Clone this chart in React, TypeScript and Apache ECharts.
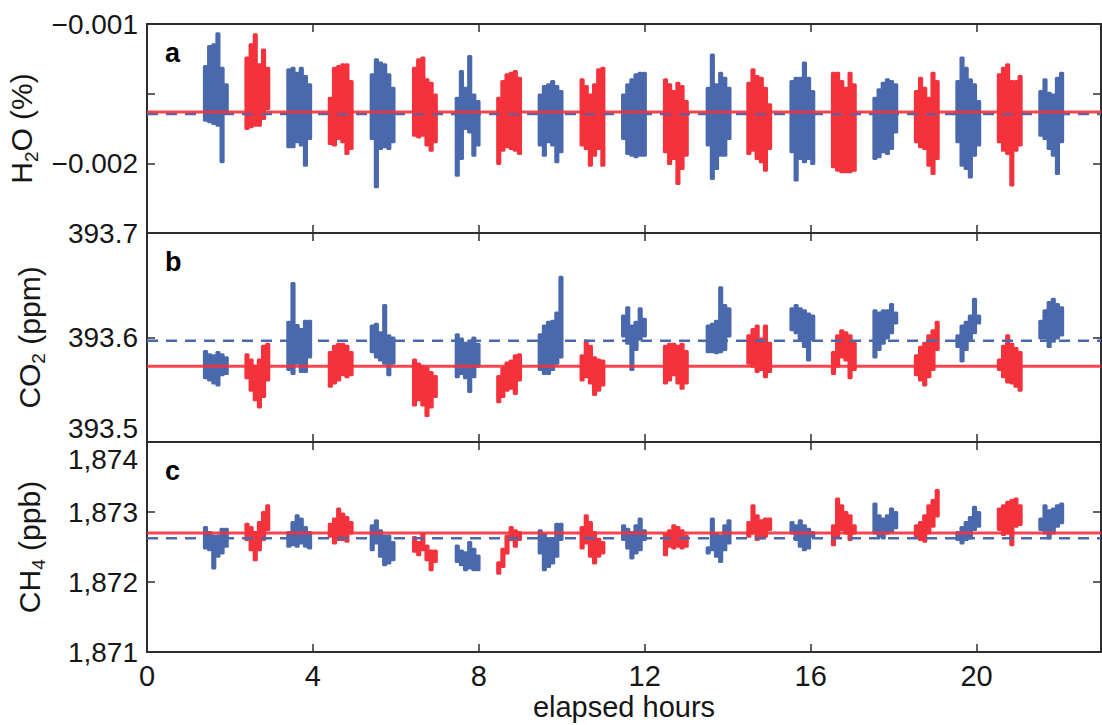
import React, { useEffect, useRef } from "react";
import * as echarts from "echarts";

// ---------------- data ----------------
const X_MAX = 23;
const X_TICK_STEP = 4;
const COL_STEP = 0.1; // hours covered by one column of a measurement block

// start time (elapsed hours) of each measurement block
const blueStarts = [1.36, 3.37, 5.38, 7.43, 9.43, 11.44, 13.48, 15.5, 17.5, 19.5, 21.5];
const redStarts = [2.36, 4.37, 6.4, 8.43, 10.44, 12.45, 14.46, 16.5, 18.5, 20.5];

// each block: list of [top, bottom] of the point cloud, column by column
const h2oBlue: number[][][] = [
  [[-1.294e-3, -1.701e-3], [-1.151e-3, -1.713e-3], [-1.139e-3, -1.725e-3], [-1.06e-3, -1.737e-3], [-1.306e-3, -2.0e-3], [-1.426e-3, -1.641e-3]],
  [[-1.318e-3, -1.892e-3], [-1.306e-3, -1.892e-3], [-1.342e-3, -1.856e-3], [-1.306e-3, -1.88e-3], [-1.366e-3, -2.024e-3], [-1.426e-3, -1.833e-3]],
  [[-1.354e-3, -1.833e-3], [-1.246e-3, -2.179e-3], [-1.27e-3, -1.904e-3], [-1.282e-3, -1.892e-3], [-1.354e-3, -1.904e-3], [-1.45e-3, -1.856e-3]],
  [[-1.522e-3, -2.096e-3], [-1.33e-3, -1.976e-3], [-1.45e-3, -1.761e-3], [-1.222e-3, -1.785e-3], [-1.498e-3, -1.952e-3], [-1.545e-3, -1.88e-3]],
  [[-1.498e-3, -1.88e-3], [-1.438e-3, -1.952e-3], [-1.426e-3, -1.856e-3], [-1.402e-3, -1.88e-3], [-1.438e-3, -2.0e-3], [-1.474e-3, -1.928e-3]],
  [[-1.498e-3, -1.833e-3], [-1.426e-3, -1.94e-3], [-1.39e-3, -1.952e-3], [-1.354e-3, -1.964e-3], [-1.342e-3, -1.952e-3], [-1.342e-3, -1.952e-3]],
  [[-1.45e-3, -1.88e-3], [-1.211e-3, -2.12e-3], [-1.426e-3, -2.048e-3], [-1.342e-3, -1.952e-3], [-1.378e-3, -1.952e-3], [-1.45e-3, -1.833e-3]],
  [[-1.402e-3, -1.928e-3], [-1.378e-3, -2.131e-3], [-1.378e-3, -1.976e-3], [-1.27e-3, -2.0e-3], [-1.378e-3, -1.976e-3], [-1.474e-3, -2.012e-3]],
  [[-1.522e-3, -1.976e-3], [-1.462e-3, -1.964e-3], [-1.414e-3, -1.928e-3], [-1.39e-3, -1.94e-3], [-1.402e-3, -1.904e-3], [-1.426e-3, -1.785e-3]],
  [[-1.402e-3, -1.856e-3], [-1.234e-3, -2.024e-3], [-1.306e-3, -2.048e-3], [-1.39e-3, -2.108e-3], [-1.426e-3, -1.952e-3], [-1.545e-3, -1.88e-3]],
  [[-1.474e-3, -1.809e-3], [-1.39e-3, -1.833e-3], [-1.486e-3, -1.904e-3], [-1.498e-3, -1.952e-3], [-1.378e-3, -2.084e-3], [-1.342e-3, -1.856e-3]],
];
const h2oRed: number[][][] = [
  [[-1.234e-3, -1.761e-3], [-1.139e-3, -1.749e-3], [-1.067e-3, -1.737e-3], [-1.282e-3, -1.737e-3], [-1.175e-3, -1.689e-3], [-1.306e-3, -1.617e-3]],
  [[-1.522e-3, -1.868e-3], [-1.306e-3, -1.88e-3], [-1.294e-3, -1.833e-3], [-1.282e-3, -1.856e-3], [-1.282e-3, -1.94e-3], [-1.402e-3, -1.904e-3]],
  [[-1.306e-3, -1.809e-3], [-1.246e-3, -1.821e-3], [-1.234e-3, -1.809e-3], [-1.39e-3, -1.88e-3], [-1.414e-3, -1.916e-3], [-1.498e-3, -1.856e-3]],
  [[-1.522e-3, -2.012e-3], [-1.402e-3, -1.916e-3], [-1.354e-3, -1.892e-3], [-1.342e-3, -1.904e-3], [-1.33e-3, -1.916e-3], [-1.378e-3, -1.94e-3]],
  [[-1.39e-3, -1.88e-3], [-1.438e-3, -1.904e-3], [-1.498e-3, -2.024e-3], [-1.426e-3, -1.952e-3], [-1.318e-3, -1.904e-3], [-1.306e-3, -2.024e-3]],
  [[-1.39e-3, -1.928e-3], [-1.426e-3, -2.012e-3], [-1.474e-3, -1.976e-3], [-1.414e-3, -2.156e-3], [-1.438e-3, -2.048e-3], [-1.545e-3, -1.952e-3]],
  [[-1.414e-3, -1.94e-3], [-1.318e-3, -1.916e-3], [-1.366e-3, -1.976e-3], [-1.378e-3, -2.0e-3], [-1.45e-3, -2.06e-3], [-1.569e-3, -1.904e-3]],
  [[-1.342e-3, -2.036e-3], [-1.342e-3, -2.06e-3], [-1.402e-3, -2.072e-3], [-1.45e-3, -2.072e-3], [-1.342e-3, -2.072e-3], [-1.426e-3, -2.06e-3]],
  [[-1.474e-3, -1.856e-3], [-1.378e-3, -1.892e-3], [-1.45e-3, -1.904e-3], [-1.522e-3, -2.024e-3], [-1.342e-3, -2.084e-3], [-1.402e-3, -1.976e-3]],
  [[-1.354e-3, -1.856e-3], [-1.306e-3, -1.916e-3], [-1.282e-3, -1.94e-3], [-1.402e-3, -2.167e-3], [-1.402e-3, -1.916e-3], [-1.366e-3, -1.88e-3]],
];

const co2Blue: number[][][] = [
  [[393.588, 393.56], [393.585, 393.558], [393.584, 393.555], [393.587, 393.553], [393.585, 393.563], [393.582, 393.564]],
  [[393.616, 393.568], [393.653, 393.564], [393.613, 393.574], [393.609, 393.566], [393.617, 393.566], [393.617, 393.58]],
  [[393.6125, 393.585], [393.614, 393.58], [393.606, 393.577], [393.632, 393.574], [393.603, 393.563], [393.601, 393.574]],
  [[393.604, 393.561], [393.6, 393.564], [393.596, 393.56], [393.598, 393.547], [393.601, 393.561], [393.595, 393.571]],
  [[393.604, 393.568], [393.6125, 393.564], [393.616, 393.564], [393.617, 393.568], [393.625, 393.574], [393.659, 393.58]],
  [[393.622, 393.6], [393.63, 393.593], [393.6125, 393.568], [393.616, 393.587], [393.629, 393.597], [393.619, 393.6]],
  [[393.6125, 393.585], [393.614, 393.585], [393.617, 393.584], [393.649, 393.585], [393.632, 393.587], [393.629, 393.6]],
  [[393.629, 393.606], [393.632, 393.603], [393.629, 393.597], [393.627, 393.59], [393.624, 393.577], [393.622, 393.597]],
  [[393.627, 393.58], [393.625, 393.587], [393.627, 393.593], [393.627, 393.598], [393.633, 393.603], [393.625, 393.6125]],
  [[393.603, 393.59], [393.6125, 393.576], [393.616, 393.587], [393.622, 393.597], [393.638, 393.603], [393.622, 393.6125]],
  [[393.617, 393.598], [393.627, 393.598], [393.635, 393.59], [393.638, 393.595], [393.633, 393.598], [393.63, 393.601]],
];
const co2Red: number[][][] = [
  [[393.585, 393.56], [393.58, 393.548], [393.574, 393.539], [393.58, 393.532], [393.593, 393.542], [393.595, 393.558]],
  [[393.587, 393.552], [393.593, 393.555], [393.595, 393.558], [393.595, 393.563], [393.593, 393.561], [393.587, 393.563]],
  [[393.58, 393.534], [393.576, 393.539], [393.574, 393.534], [393.572, 393.524], [393.568, 393.532], [393.564, 393.542]],
  [[393.564, 393.537], [393.572, 393.542], [393.577, 393.548], [393.579, 393.55], [393.584, 393.545], [393.585, 393.558]],
  [[393.584, 393.558], [393.598, 393.561], [393.593, 393.555], [393.582, 393.544], [393.58, 393.548], [393.579, 393.553]],
  [[393.593, 393.555], [393.595, 393.558], [393.595, 393.563], [393.593, 393.555], [393.595, 393.55], [393.588, 393.555]],
  [[393.603, 393.574], [393.609, 393.571], [393.6125, 393.566], [393.6, 393.568], [393.6125, 393.561], [393.596, 393.566]],
  [[393.587, 393.564], [393.603, 393.571], [393.608, 393.58], [393.606, 393.577], [393.603, 393.56], [393.596, 393.568]],
  [[393.584, 393.563], [393.592, 393.558], [393.596, 393.553], [393.603, 393.561], [393.608, 393.568], [393.616, 393.587]],
  [[393.58, 393.568], [393.593, 393.561], [393.603, 393.556], [393.595, 393.555], [393.591, 393.552], [393.587, 393.548]],
];

const ch4Blue: number[][][] = [
  [[1872.8, 1872.464], [1872.728, 1872.44], [1872.68, 1872.177], [1872.68, 1872.345], [1872.776, 1872.393], [1872.776, 1872.488]],
  [[1872.728, 1872.488], [1872.872, 1872.512], [1872.968, 1872.488], [1872.92, 1872.536], [1872.8, 1872.488], [1872.728, 1872.464]],
  [[1872.824, 1872.44], [1872.896, 1872.536], [1872.752, 1872.345], [1872.68, 1872.225], [1872.68, 1872.249], [1872.584, 1872.297]],
  [[1872.536, 1872.273], [1872.464, 1872.225], [1872.44, 1872.153], [1872.584, 1872.177], [1872.488, 1872.153], [1872.393, 1872.153]],
  [[1872.752, 1872.393], [1872.704, 1872.153], [1872.632, 1872.2], [1872.632, 1872.249], [1872.848, 1872.345], [1872.848, 1872.584]],
  [[1872.824, 1872.584], [1872.776, 1872.464], [1872.728, 1872.321], [1872.824, 1872.393], [1872.92, 1872.44], [1872.752, 1872.584]],
  [[1872.512, 1872.393], [1872.92, 1872.44], [1872.704, 1872.345], [1872.68, 1872.273], [1872.824, 1872.44], [1872.896, 1872.536]],
  [[1872.872, 1872.68], [1872.824, 1872.584], [1872.896, 1872.488], [1872.824, 1872.44], [1872.776, 1872.464], [1872.728, 1872.632]],
  [[1873.136, 1872.68], [1872.968, 1872.632], [1872.92, 1872.608], [1872.968, 1872.68], [1873.064, 1872.704], [1873.016, 1872.752]],
  [[1872.728, 1872.584], [1872.8, 1872.536], [1872.872, 1872.584], [1872.944, 1872.608], [1873.088, 1872.728], [1873.016, 1872.776]],
  [[1872.92, 1872.728], [1873.112, 1872.68], [1873.04, 1872.608], [1873.064, 1872.68], [1873.112, 1872.776], [1873.136, 1872.824]],
];
const ch4Red: number[][][] = [
  [[1872.848, 1872.584], [1872.8, 1872.44], [1872.728, 1872.297], [1872.872, 1872.44], [1873.016, 1872.584], [1873.112, 1872.728]],
  [[1872.848, 1872.632], [1872.92, 1872.536], [1873.064, 1872.584], [1872.992, 1872.584], [1872.944, 1872.56], [1872.872, 1872.68]],
  [[1872.656, 1872.417], [1872.584, 1872.369], [1872.704, 1872.44], [1872.536, 1872.297], [1872.464, 1872.153], [1872.464, 1872.273]],
  [[1872.297, 1872.105], [1872.488, 1872.2], [1872.68, 1872.393], [1872.8, 1872.584], [1872.752, 1872.488], [1872.728, 1872.584]],
  [[1872.8, 1872.464], [1872.968, 1872.536], [1872.872, 1872.345], [1872.728, 1872.249], [1872.632, 1872.345], [1872.584, 1872.393]],
  [[1872.704, 1872.369], [1872.752, 1872.488], [1872.824, 1872.464], [1872.8, 1872.488], [1872.752, 1872.464], [1872.68, 1872.488]],
  [[1872.872, 1872.632], [1873.112, 1872.68], [1872.968, 1872.584], [1872.896, 1872.608], [1872.92, 1872.632], [1872.92, 1872.728]],
  [[1872.824, 1872.512], [1873.208, 1872.632], [1873.112, 1872.728], [1873.016, 1872.68], [1872.968, 1872.584], [1872.824, 1872.68]],
  [[1872.824, 1872.632], [1872.872, 1872.584], [1872.968, 1872.56], [1873.112, 1872.68], [1873.184, 1872.776], [1873.328, 1872.92]],
  [[1873.064, 1872.728], [1873.112, 1872.656], [1873.16, 1872.68], [1873.184, 1872.512], [1873.208, 1872.776], [1873.112, 1872.8]],
];

// mean levels (red solid, blue dashed)
const h2oMeanRed = -1.632e-3;
const h2oMeanBlue = -1.646e-3;
const co2MeanRed = 393.5724;
const co2MeanBlue = 393.597;
const ch4MeanRed = 1872.7;
const ch4MeanBlue = 1872.626;

const panelLetters = ["a", "b", "c"];
const yNames = ["H{s|2}O (%)", "CO{s|2} (ppm)", "CH{s|4} (ppb)"];
const xName = "elapsed hours";

// ---------------- styling ----------------
const BLUE = "#4a69ad";
const RED = "#f4323c";
const AXIS = "#2e2e2e";
const TEXT = "#161616";
const FONT = "'Liberation Sans', Arial, Helvetica, sans-serif";
const HALF = 0.062;

const GRIDS = [
  { top: 24, height: 209 },
  { top: 233, height: 209 },
  { top: 442, height: 210 },
];

function buildBlocks(starts: number[], blocks: number[][][]) {
  const out: number[][] = [];
  blocks.forEach((cols, k) => {
    cols.forEach((c, i) => {
      out.push([starts[k] + (i + 0.5) * COL_STEP, c[1], c[0]]);
    });
  });
  return out;
}

function blockSeries(data: number[][], color: string, idx: number) {
  return {
    type: "custom",
    xAxisIndex: idx * 2,
    yAxisIndex: idx * 2,
    silent: true,
    z: 2,
    encode: { x: 0, y: [1, 2] },
    data,
    renderItem: (_p: any, api: any) => {
      const t = api.value(0);
      const lo = api.value(1);
      const hi = api.value(2);
      const a = api.coord([t - HALF, hi]);
      const b = api.coord([t + HALF, lo]);
      return {
        type: "rect",
        shape: { x: a[0], y: a[1], width: b[0] - a[0], height: Math.max(1.5, b[1] - a[1]), r: 1.5 },
        style: { fill: color },
      };
    },
  };
}

function meanSeries(v: number, color: string, dashed: boolean, idx: number) {
  return {
    type: "line",
    xAxisIndex: idx * 2,
    yAxisIndex: idx * 2,
    silent: true,
    symbol: "none",
    z: dashed ? 4 : 5,
    data: [
      [0, v],
      [X_MAX, v],
    ],
    lineStyle: dashed
      ? { color: BLUE, width: 2.5, type: [11, 8] }
      : { color: RED, width: 3, opacity: 0.9 },
  };
}

const near = (a: number, b: number) => Math.abs(a - b) < 1e-9;

export default function App() {
  const ref = useRef<HTMLDivElement>(null);

  useEffect(() => {
    if (!ref.current) return;
    const chart = echarts.init(ref.current, undefined, { renderer: "svg" });

    const tickStyle = { inside: true, length: 8, lineStyle: { color: AXIS, width: 1.5 } };
    const lineStyle = { show: true, onZero: false, lineStyle: { color: AXIS, width: 2 } };

    const xAxes: any[] = [];
    const yAxes: any[] = [];
    const yRanges = [
      { min: -2.5e-3, max: -1e-3, interval: 0.5e-3 },
      { min: 393.5, max: 393.7, interval: 0.1 },
      { min: 1871, max: 1874, interval: 1 },
    ];
    const yFormatters = [
      (v: number) => (near(v, -1e-3) ? "\u22120.001" : near(v, -2e-3) ? "\u22120.002" : ""),
      (v: number) => (near(v, 393.5) ? "{lo|393.5}" : v.toFixed(1)),
      (v: number) => {
        const s = Math.round(v).toLocaleString("en-US");
        return near(v, 1874) ? "{hi|" + s + "}" : s;
      },
    ];

    GRIDS.forEach((_g, i) => {
      xAxes.push({
        type: "value",
        gridIndex: i,
        position: "bottom",
        min: 0,
        max: X_MAX,
        interval: X_TICK_STEP,
        axisLine: lineStyle,
        axisTick: tickStyle,
        splitLine: { show: false },
        axisLabel: {
          show: i === 2,
          margin: 9,
          fontSize: 29,
          fontFamily: FONT,
          color: TEXT,
          formatter: (v: number) => (v % X_TICK_STEP === 0 ? String(v) : ""),
        },
        name: i === 2 ? xName : "",
        nameLocation: "middle",
        nameGap: 40,
        nameTextStyle: { fontSize: 29, fontFamily: FONT, color: TEXT },
      });
      xAxes.push({
        type: "value",
        gridIndex: i,
        position: "top",
        min: 0,
        max: X_MAX,
        interval: X_TICK_STEP,
        axisLine: lineStyle,
        axisTick: tickStyle,
        splitLine: { show: false },
        axisLabel: { show: false },
      });
      const r = yRanges[i];
      yAxes.push({
        type: "value",
        gridIndex: i,
        position: "left",
        min: r.min,
        max: r.max,
        interval: r.interval,
        axisLine: lineStyle,
        axisTick: tickStyle,
        splitLine: { show: false },
        axisLabel: {
          margin: 9,
          fontSize: 28,
          fontFamily: FONT,
          color: TEXT,
          formatter: yFormatters[i],
          rich: {
            lo: { fontSize: 28, lineHeight: 26, fontFamily: FONT, color: TEXT, padding: [0, 0, 28, 0] },
            hi: { fontSize: 28, lineHeight: 26, fontFamily: FONT, color: TEXT, padding: [34, 0, 0, 0] },
          },
        },
        name: yNames[i],
        nameLocation: "middle",
        nameGap: 99,
        nameTextStyle: {
          fontSize: 30,
          fontFamily: FONT,
          color: TEXT,
          lineHeight: 38,
          rich: {
            s: { fontSize: 19, fontFamily: FONT, color: TEXT, lineHeight: 21, verticalAlign: "bottom" },
          },
        },
      });
      yAxes.push({
        type: "value",
        gridIndex: i,
        position: "right",
        min: r.min,
        max: r.max,
        interval: r.interval,
        axisLine: lineStyle,
        axisTick: tickStyle,
        splitLine: { show: false },
        axisLabel: { show: false },
      });
    });

    const series: any[] = [
      blockSeries(buildBlocks(blueStarts, h2oBlue), BLUE, 0),
      blockSeries(buildBlocks(redStarts, h2oRed), RED, 0),
      meanSeries(h2oMeanBlue, BLUE, true, 0),
      meanSeries(h2oMeanRed, RED, false, 0),
      blockSeries(buildBlocks(blueStarts, co2Blue), BLUE, 1),
      blockSeries(buildBlocks(redStarts, co2Red), RED, 1),
      meanSeries(co2MeanBlue, BLUE, true, 1),
      meanSeries(co2MeanRed, RED, false, 1),
      blockSeries(buildBlocks(blueStarts, ch4Blue), BLUE, 2),
      blockSeries(buildBlocks(redStarts, ch4Red), RED, 2),
      meanSeries(ch4MeanBlue, BLUE, true, 2),
      meanSeries(ch4MeanRed, RED, false, 2),
    ];

    const letterY = [53, 262, 471];
    chart.setOption({
      animation: false,
      backgroundColor: "#ffffff",
      grid: GRIDS.map((g) => ({
        left: 147,
        right: 1,
        top: g.top,
        height: g.height,
        containLabel: false,
        outerBoundsMode: "none",
      })),
      xAxis: xAxes,
      yAxis: yAxes,
      series,
      graphic: panelLetters.map((t, i) => ({
        type: "text",
        x: 165,
        y: letterY[i],
        z: 10,
        style: {
          text: t,
          fontSize: 27,
          fontWeight: "bold",
          fontFamily: FONT,
          fill: "#000",
          verticalAlign: "middle",
          align: "left",
        },
      })),
    });

    return () => chart.dispose();
  }, []);

  return (
    <div
      ref={ref}
      style={{ position: "fixed", left: 0, top: 0, width: 1102, height: 725, background: "#fff" }}
    />
  );
}
